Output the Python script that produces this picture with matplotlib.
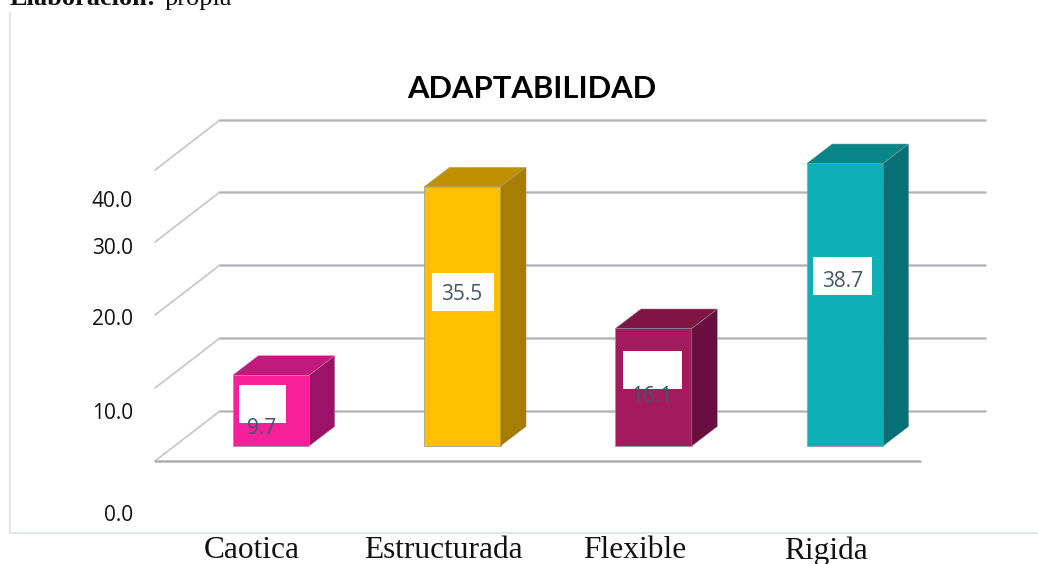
import numpy as np
import matplotlib
matplotlib.use('Agg')
import matplotlib.pyplot as plt
from matplotlib.lines import Line2D
from matplotlib.patches import Polygon, Rectangle

categories = ['Caotica', 'Estructurada', 'Flexible', 'Rigida']
values = [9.7, 35.5, 16.1, 38.7]
y_tick_labels = ['0.0', '10.0', '20.0', '30.0', '40.0']
front_colors = ['#F5209A', '#FFC000', '#A51A5E', '#0CB0B6']
top_colors = ['#C3187C', '#BF9000', '#7F1445', '#088587']
side_colors = ['#9C1268', '#A67D00', '#680F3F', '#067076']

W, H = 1038, 564
AX_LEFT, AX_BOTTOM = 140, 534
X0, STEP = 271, 191.3   # pixel of first bar centre, pixels per category
Y0, SCALE = 446, 7.3    # pixel of bar base, pixels per unit


def px(x, y):
    # figure pixel -> data coordinates
    return (x - X0) / STEP, (Y0 - y) / SCALE


def rule(p1, p2, light, dark, lw=2.0):
    # lines in the original have a soft lighter edge round a darker core
    ax.plot(*zip(px(*p1), px(*p2)), color=light, lw=lw, zorder=1, solid_capstyle='round')
    ax.plot(*zip(px(*p1), px(*p2)), color=dark, lw=lw / 2, zorder=1.1)


fig = plt.figure(figsize=(W / 100, H / 100), dpi=100)
ax = fig.add_axes([AX_LEFT / W, (H - AX_BOTTOM) / H, (W - AX_LEFT) / W, AX_BOTTOM / H])
ax.set_xlim(px(AX_LEFT, 0)[0], px(W, 0)[0])
ax.set_ylim(px(0, AX_BOTTOM)[1], px(0, 0)[1])
for s in ax.spines.values():
    s.set_visible(False)

# outer frame of the pasted chart
frame = '#E2E6EB'
fig.add_artist(Line2D([10 / W, 10 / W, 1], [1 - 13 / H, 1 - 533 / H, 1 - 533 / H],
                      color=frame, lw=1.6))

# floor, back wall gridlines and slanted side lines
grid_pix = [411, 338, 265, 192, 120]
for gy in grid_pix:
    rule((155, gy + 50), (220, gy), '#DADADD', '#C2C2C6', lw=1.4)
    rule((220, gy), (985, gy), '#CFD0D3', '#B0B2B5')
rule((155, 461), (920, 461), '#CACBCE', '#A4A6A9')

# 3D bars
x = np.arange(len(categories))
bar_w = 0.4
dx, dy = 25.5 / STEP, 19.5 / SCALE
ax.bar(x, values, width=bar_w, color=front_colors, edgecolor='#8A9AA0', linewidth=0.5, zorder=3)
for i, v in enumerate(values):
    l, r = x[i] - bar_w / 2, x[i] + bar_w / 2
    ax.add_patch(Polygon([(l, v), (r, v), (r + dx, v + dy), (l + dx, v + dy)],
                         facecolor=top_colors[i], edgecolor='#9AA0A0', linewidth=0.3, zorder=3))
    ax.add_patch(Polygon([(r, 0), (r + dx, dy), (r + dx, v + dy), (r, v)],
                         facecolor=side_colors[i], edgecolor='#9AA0A0', linewidth=0.3, zorder=3))

# data labels: white box and text are offset from each other in the original
boxes = [(239, 385, 286, 423), (432, 273, 494, 311), (623, 351, 682, 389), (813, 257, 872, 295)]
label_pos = [(262, 428), (462, 294), (652, 396), (843, 281)]
for i, v in enumerate(values):
    x1, y1 = px(boxes[i][0], boxes[i][3])
    x2, y2 = px(boxes[i][2], boxes[i][1])
    ax.add_patch(Rectangle((x1, y1), x2 - x1, y2 - y1, facecolor='white', edgecolor='none', zorder=4))
    lx, ly = px(*label_pos[i])
    ax.text(lx, ly, f'{v:.1f}', ha='center', va='center', fontsize=15, family='Open Sans',
            color='#44546A', zorder=5)

# tick labels sit off the gridlines in the original
ax.set_xticks(x - 0.1, categories, family='Liberation Serif', fontsize=22.6, color='#111111')
ax.set_yticks([px(0, p)[1] for p in (513, 411, 317, 246, 199)], y_tick_labels,
              family='Open Sans', fontsize=15, color='#111111')
ax.tick_params(axis='both', length=0)
ax.tick_params(axis='x', pad=1.5)
ax.tick_params(axis='y', pad=5)

ax.text(*px(532, 88.5), 'ADAPTABILIDAD', ha='center', va='center', fontsize=22.3,
        fontweight='bold', family='Lato', color='black')

fig.text(10 / W, 1 - 5 / H, 'Elaboración:', family='Liberation Serif', fontweight='bold',
         fontsize=19, va='baseline', color='#111111')
fig.text(165 / W, 1 - 5 / H, 'propia', family='Liberation Serif', fontsize=19,
         va='baseline', color='#111111')

fig.savefig('out.png', dpi=100)
